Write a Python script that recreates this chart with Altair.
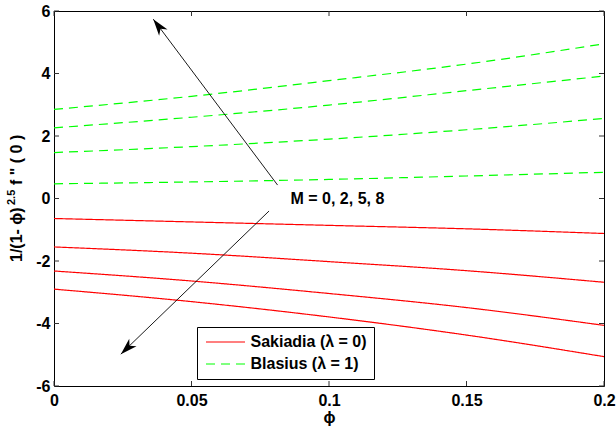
import altair as alt
import pandas as pd
import numpy as np

FONT = "Liberation Sans, Arial, Helvetica, sans-serif"

# ---------------- data ----------------
phi = [0.0, 0.05, 0.10, 0.15, 0.20]
M_values = [0, 2, 5, 8]

sak_M0 = [-0.64, -0.75, -0.86, -0.97, -1.12]
sak_M2 = [-1.55, -1.75, -2.02, -2.31, -2.68]
sak_M5 = [-2.32, -2.64, -3.04, -3.49, -4.06]
sak_M8 = [-2.90, -3.30, -3.79, -4.37, -5.06]

bla_M0 = [0.47, 0.53, 0.61, 0.72, 0.84]
bla_M2 = [1.47, 1.66, 1.90, 2.20, 2.56]
bla_M5 = [2.26, 2.60, 2.99, 3.45, 3.92]
bla_M8 = [2.85, 3.27, 3.77, 4.30, 4.95]

series_labels = ["Sakiadia (λ = 0)", "Blasius (λ = 1)"]
series_colors = ["#ff0000", "#00ff00"]

x_ticks = [0, 0.05, 0.1, 0.15, 0.2]
y_ticks = [-6, -4, -2, 0, 2, 4, 6]

annotation_text = ["M = 0, 2, 5, 8"]
annotation_x = [0.086]
annotation_y = [-0.02]

arrow_tail_x = [0.0813, 0.0782]
arrow_tail_y = [0.43, -0.40]
arrow_head_x = [0.0361, 0.0243]
arrow_head_y = [5.74, -4.98]

# ---------------- layout ----------------
W, H = 550, 375
XDOM, YDOM = [0, 0.2], [-6, 6]

rows = []
for lab, group in zip(series_labels, [[sak_M0, sak_M2, sak_M5, sak_M8],
                                      [bla_M0, bla_M2, bla_M5, bla_M8]]):
    for m, vals in zip(M_values, group):
        for p, v in zip(phi, vals):
            rows.append({"x": p, "y": v, "type": lab, "id": f"{lab}-{m}"})
df = pd.DataFrame(rows)

xs = alt.Scale(domain=XDOM, nice=False, zero=False)
ys = alt.Scale(domain=YDOM, nice=False, zero=False)

x_axis = alt.Axis(values=x_ticks, labelExpr="'' + datum.value", title="ϕ", ticks=False, tickSize=0,
                  domain=False, grid=False, labelFlush=False, labelOverlap=False,
                  labelPadding=6, titlePadding=1)
y_axis = alt.Axis(values=y_ticks, labelExpr="'' + datum.value", title=None, ticks=False, tickSize=0,
                  domain=False, grid=False, labelFlush=False, labelOverlap=False, labelPadding=4)


def X(field):
    return alt.X(field, type="quantitative", scale=xs, axis=x_axis)


def Y(field):
    return alt.Y(field, type="quantitative", scale=ys, axis=y_axis)


legend = alt.Legend(
    title=None, orient="none", legendX=143, legendY=316,
    strokeColor="black", fillColor="white", padding=7, cornerRadius=0,
    labelFont=FONT, labelFontSize=16, labelFontWeight="bold", labelColor="black",
    symbolType="M-3.9,0L3.9,0", symbolSize=100, symbolStrokeWidth=1.2,
    symbolOffset=13.5, labelOffset=17, rowPadding=6,
)

lines = alt.Chart(df).mark_line(strokeWidth=1.2, interpolate="monotone").encode(
    x=X("x"),
    y=Y("y"),
    color=alt.Color("type:N", scale=alt.Scale(domain=series_labels, range=series_colors),
                    legend=legend),
    strokeDash=alt.StrokeDash("type:N", scale=alt.Scale(domain=series_labels, range=[[1, 0], [9, 6]]),
                              legend=legend),
    detail="id:N",
)

# inward ticks on all four sides (MATLAB box style)
xt = pd.DataFrame({"x": x_ticks})
yt = pd.DataFrame({"y": y_ticks})
tick_col = "#333333"
xt_bot = alt.Chart(xt).mark_rule(color=tick_col, strokeWidth=1).encode(
    x=X("x"), y=alt.value(H), y2=alt.value(H - 5))
xt_top = alt.Chart(xt).mark_rule(color=tick_col, strokeWidth=1).encode(
    x=X("x"), y=alt.value(0), y2=alt.value(5))
yt_left = alt.Chart(yt).mark_rule(color=tick_col, strokeWidth=1).encode(
    y=Y("y"), x=alt.value(0), x2=alt.value(5))
yt_right = alt.Chart(yt).mark_rule(color=tick_col, strokeWidth=1).encode(
    y=Y("y"), x=alt.value(W), x2=alt.value(W - 5))

# arrows
kx = W / (XDOM[1] - XDOM[0])
ky = H / (YDOM[1] - YDOM[0])
angles = []
for tx, ty, hx, hy in zip(arrow_tail_x, arrow_tail_y, arrow_head_x, arrow_head_y):
    dx = (hx - tx) * kx
    dy = -(hy - ty) * ky
    angles.append(float(np.degrees(np.arctan2(dx, -dy))) % 360)
arr = pd.DataFrame({"x": arrow_tail_x, "y": arrow_tail_y,
                    "hx": arrow_head_x, "hy": arrow_head_y, "ang": angles})
arrow_lines = alt.Chart(arr).mark_rule(color="black", strokeWidth=0.9).encode(
    x=X("x"), y=Y("y"), x2="hx:Q", y2="hy:Q")
arrow_heads = alt.Chart(arr).mark_point(
    shape="M0,0L1,3.2L0,2.3L-1,3.2Z", filled=True, size=110, color="black",
    opacity=1, strokeWidth=0).encode(
    x=X("hx"), y=Y("hy"), angle=alt.Angle("ang:Q", scale=None))

ann = alt.Chart(pd.DataFrame({"x": annotation_x, "y": annotation_y, "t": annotation_text})).mark_text(
    align="left", baseline="middle", font=FONT, fontSize=16, fontWeight="bold", color="black"
).encode(x=X("x"), y=Y("y"), text="t:N")

# y-axis title with superscript
ytitle_main = alt.Chart(pd.DataFrame({"t": ["1/(1- ϕ)"]})).mark_text(
    angle=270, align="left", baseline="middle", font=FONT, fontSize=16, fontWeight="bold", color="black"
).encode(x=alt.value(-37), y=alt.value(251), text="t:N")
ytitle_sup = alt.Chart(pd.DataFrame({"t": ["2.5"]})).mark_text(
    angle=270, align="left", baseline="middle", font=FONT, fontSize=11, fontWeight="bold", color="black"
).encode(x=alt.value(-42), y=alt.value(194), text="t:N")
ytitle_rest = alt.Chart(pd.DataFrame({"t": ['f " ( 0 )']})).mark_text(
    angle=270, align="left", baseline="middle", font=FONT, fontSize=16, fontWeight="bold", color="black"
).encode(x=alt.value(-37), y=alt.value(174), text="t:N")

chart = alt.layer(
    lines, xt_bot, xt_top, yt_left, yt_right, arrow_lines, arrow_heads, ann,
    ytitle_main, ytitle_sup, ytitle_rest
).properties(
    width=W, height=H,
    padding={"left": 54, "top": 11, "right": 12, "bottom": 44},
    autosize=alt.AutoSizeParams(type="none"),
    background="white",
).configure_view(
    stroke="black", strokeWidth=1
).configure_axis(
    labelFont=FONT, labelFontSize=16, labelFontWeight="bold", labelColor="black",
    titleFont=FONT, titleFontSize=16, titleFontWeight="bold", titleColor="black",
)

chart.save("out.html", embed_options={"renderer": "svg", "actions": False})
